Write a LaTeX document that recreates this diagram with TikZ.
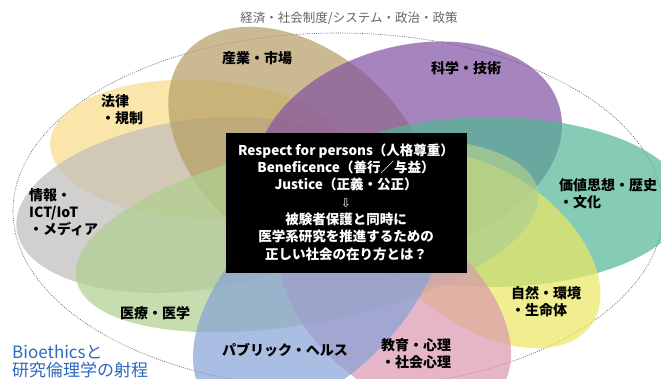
\documentclass[tikz,border=0pt]{standalone}
\usepackage{fontspec}
\setmainfont{Noto Sans CJK JP}
\newfontfamily\arrowfont{DejaVu Sans}
\definecolor{cTan}{RGB}{181,158,99}
\definecolor{cPurple}{RGB}{129,81,162}
\definecolor{cLaw}{RGB}{248,218,134}
\definecolor{cGray}{RGB}{192,188,188}
\definecolor{cMed}{RGB}{175,208,142}
\definecolor{cBlue}{RGB}{134,162,216}
\definecolor{cPink}{RGB}{219,152,176}
\definecolor{cNat}{RGB}{236,231,98}
\definecolor{cTeal}{RGB}{82,182,150}
\definecolor{cTitle}{RGB}{100,100,100}
\definecolor{cBio}{RGB}{45,105,190}
\newcommand\petal[6]{\fill[#6, opacity=0.7, rotate around={#5:(#1,#2)}] (#1,#2) ellipse [x radius=#3pt, y radius=#4pt];}
\begin{document}
\begin{tikzpicture}[x=1pt,y=-1pt,
  lab/.style={font=\fontsize{14}{17}\selectfont\bfseries, text=black, inner sep=0pt, align=left},
  boxtext/.style={font=\fontsize{13.5}{17.3}\selectfont\bfseries, text=white, inner sep=0pt, align=center}]
\useasboundingbox (0,0) rectangle (661,379);
\fill[white] (0,0) rectangle (661,379);
\draw[cTitle, line width=0.6pt, dash pattern=on 1pt off 1.2pt] (338,211) ellipse [x radius=325pt, y radius=178pt];
% petals
\petal{200}{150}{150}{70}{-3}{cLaw}
\petal{195}{205}{180}{85}{8}{cGray}
\petal{300}{150}{150}{100}{-40}{cTan}
\petal{409}{148}{156}{102}{15}{cPurple}
\petal{490}{202}{195}{85}{0}{cTeal}
\petal{485}{250}{130}{78}{-35}{cNat}
\petal{307}{235}{235}{88}{11}{cMed}
\petal{395}{305}{135}{82}{-40}{cPink}
\petal{318}{290}{155}{85}{45}{cBlue}
% title
\node[font=\fontsize{12.5}{15}\selectfont, text=cTitle, inner sep=0pt] (title) at (349,18) {経済・社会制度/システム・政治・政策};
% labels
\node[lab] (ind) at (257,58) {産業・市場};
\node[lab] (sci) at (466,68) {科学・技術};
\node[lab, anchor=west] (law) at (101,110) {法律\\・規制};
\node[lab, anchor=west] (info) at (29,212) {情報・\\ICT/IoT\\・メディア};
\node[lab, anchor=west] (val) at (559,194) {価値思想・歴史\\・文化};
\node[lab, anchor=west] (nat) at (511,302) {自然・環境\\・生命体};
\node[lab, anchor=west] (edu) at (381,353.5) {教育・心理\\・社会心理};
\node[lab] (med) at (155,313) {医療・医学};
\node[lab] (pub) at (285,350) {パブリック・ヘルス};
\node[font=\fontsize{17}{18}\selectfont, text=cBio, inner sep=0pt, align=left, anchor=west] (bio) at (12,361) {Bioethicsと\\研究倫理学の射程};
% central box
\node[fill=black, minimum width=241pt, minimum height=140pt, inner sep=0pt] (box) at (346.5,203) {};
\node[boxtext] (btext) at (346,202) {Respect for persons（人格尊重）\\Beneficence（善行／与益）\\Justice（正義・公正）\\{\arrowfont\mdseries\fontsize{12}{17.3}\selectfont ⇩}\\被験者保護と同時に\\医学系研究を推進するための\\正しい社会の在り方とは？};
\end{tikzpicture}
\end{document}
